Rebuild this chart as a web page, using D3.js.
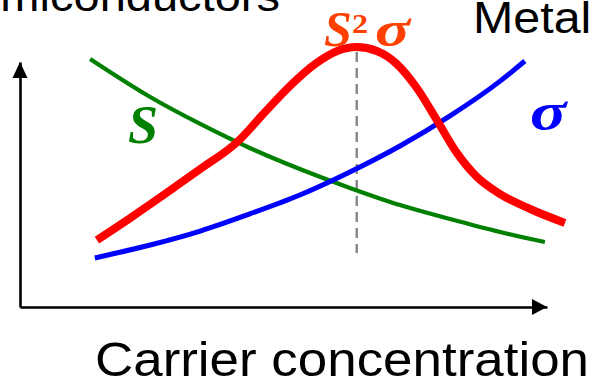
<!DOCTYPE html>
<html>
<head>
<meta charset="utf-8">
<script src="https://cdn.jsdelivr.net/npm/d3@7"></script>
<style>
  html, body { margin: 0; padding: 0; background: #fff; }
  svg { display: block; }
</style>
</head>
<body>
<svg id="chart" width="594" height="384"></svg>
<script>
// Carrier concentration (arbitrary units) and property values for each curve
const seebeckX = [1.33, 2.47, 3.42, 4.36, 5.31, 6.26, 7.21, 8.16, 9.11, 9.96];
const seebeckY = [10.12, 8.57, 7.47, 6.49, 5.63, 4.86, 4.16, 3.59, 3.06, 2.65];

const sigmaX = [1.42, 2.47, 3.42, 4.36, 5.31, 6.26, 7.21, 8.16, 9.11, 9.58];
const sigmaY = [2.00, 2.53, 3.10, 3.80, 4.57, 5.51, 6.57, 7.80, 9.22, 10.04];

const powerX = [1.46, 2.09, 2.75, 3.42, 4.12, 4.65, 5.12, 5.60, 6.02, 6.39,
                6.77, 7.15, 7.53, 7.91, 8.29, 8.67, 9.11, 9.68, 10.34];
const powerY = [2.73, 3.63, 4.61, 5.63, 6.73, 7.96, 9.02, 9.92, 10.45, 10.61,
                10.45, 9.92, 8.94, 7.63, 6.29, 5.31, 4.61, 4.00, 3.43];

const dropLineBottom = 2.2;

const svg = d3.select("#chart");

const x = d3.scaleLinear().domain([0, 10]).range([20, 547]);
const y = d3.scaleLinear().domain([0, 10]).range([307, 62]);

const pts = (xs, ys) => xs.map((v, i) => [v, ys[i]]);
const line = d3.line()
  .x(d => x(d[0]))
  .y(d => y(d[1]))
  .curve(d3.curveMonotoneX);

// Axes (bare lines with arrowheads)
const axisColor = "#000";
svg.append("g")
  .attr("transform", `translate(0,${y(0)})`)
  .call(d3.axisBottom(x).tickValues([]).tickSizeOuter(0));
svg.append("g")
  .attr("transform", `translate(${x(0)},0)`)
  .call(d3.axisLeft(y).tickValues([]).tickSizeOuter(0));
svg.selectAll(".domain")
  .attr("stroke", axisColor)
  .attr("stroke-width", 2.6);

svg.append("path")
  .attr("d", `M${x(10)},${y(0)} l-15,-8 l0,16 Z`)
  .attr("fill", axisColor);
svg.append("path")
  .attr("d", `M${x(0)},${y(10)} l-7.5,16 l15,0 Z`)
  .attr("fill", axisColor);

// Dashed drop line at the power-factor maximum
const peakIdx = d3.maxIndex(powerY);
svg.append("line")
  .attr("x1", x(powerX[peakIdx])).attr("x2", x(powerX[peakIdx]))
  .attr("y1", y(powerY[peakIdx]) + 5).attr("y2", y(dropLineBottom))
  .attr("stroke", "#888")
  .attr("stroke-width", 2.5)
  .attr("stroke-dasharray", "10,6");

// Curves
svg.append("path")
  .datum(pts(seebeckX, seebeckY))
  .attr("d", line)
  .attr("fill", "none")
  .attr("stroke", "#008000")
  .attr("stroke-width", 4.2);

svg.append("path")
  .datum(pts(sigmaX, sigmaY))
  .attr("d", line)
  .attr("fill", "none")
  .attr("stroke", "#0000ff")
  .attr("stroke-width", 5);

svg.append("path")
  .datum(pts(powerX, powerY))
  .attr("d", line)
  .attr("fill", "none")
  .attr("stroke", "#ff0000")
  .attr("stroke-width", 8)
  .attr("stroke-linejoin", "round");

// Text
const sans = "'Liberation Sans', Arial, Helvetica, sans-serif";
const serif = "'Liberation Serif', 'Times New Roman', serif";

svg.append("text")
  .attr("transform", "translate(280,11) scale(1.12,1)")
  .attr("text-anchor", "end")
  .attr("font-family", sans)
  .attr("font-size", 42)
  .attr("fill", "#000")
  .text("Semiconductors");

svg.append("text")
  .attr("transform", "translate(473,33) scale(1.1,1)")
  .attr("font-family", sans)
  .attr("font-size", 44)
  .attr("fill", "#000")
  .text("Metal");

svg.append("text")
  .attr("transform", "translate(95,376) scale(1.08,1)")
  .attr("font-family", sans)
  .attr("font-size", 49)
  .attr("fill", "#000")
  .text("Carrier concentration");

const labelStyle = sel => sel
  .attr("font-family", serif)
  .attr("font-style", "italic")
  .attr("font-weight", "bold");

svg.append("text")
  .call(labelStyle)
  .attr("x", 128).attr("y", 143)
  .attr("font-size", 54)
  .attr("fill", "#008000")
  .text("S");

svg.append("text")
  .call(labelStyle)
  .attr("transform", "translate(530,129) scale(1.3,1)")
  .attr("font-size", 52)
  .attr("fill", "#0000ff")
  .text("σ");

const pfColor = "#ff4000";
svg.append("text")
  .call(labelStyle)
  .attr("x", 324).attr("y", 46)
  .attr("font-size", 50)
  .attr("fill", pfColor)
  .text("S");
svg.append("text")
  .attr("font-family", serif)
  .attr("font-weight", "bold")
  .attr("transform", "translate(352,33) scale(1.15,1)")
  .attr("font-size", 28)
  .attr("fill", pfColor)
  .text("2");
svg.append("text")
  .call(labelStyle)
  .attr("transform", "translate(375,46) scale(1.3,1)")
  .attr("font-size", 50)
  .attr("fill", pfColor)
  .text("σ");
</script>
</body>
</html>
